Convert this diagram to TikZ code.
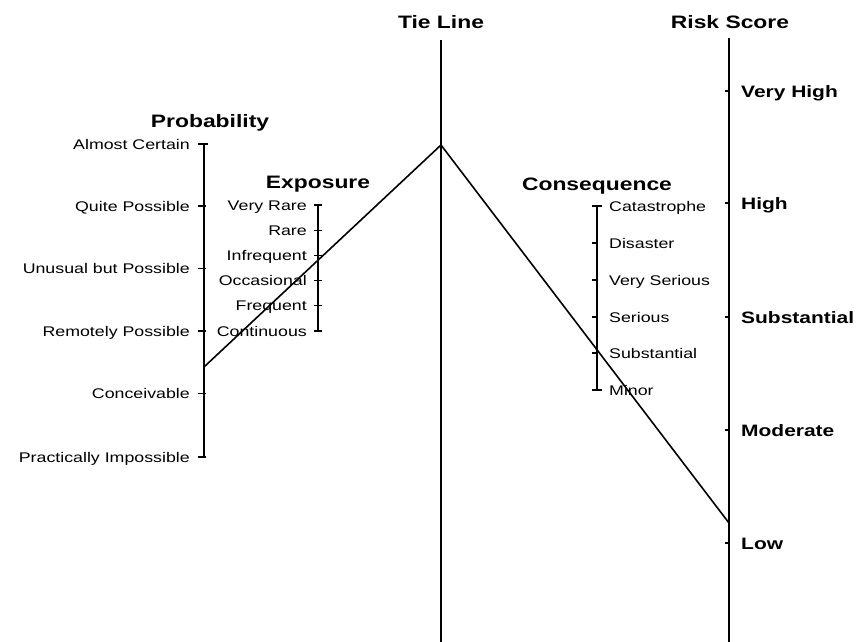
\documentclass[tikz,border=0pt]{standalone}
\usepackage{fontspec}
\setmainfont[FakeStretch=1.27]{Liberation Sans}
\begin{document}
\begin{tikzpicture}[x=1pt,y=-1pt,
  axis/.style={line width=1.6pt},
  tickmark/.style={line width=1.2pt},
  tieline/.style={line width=1.6pt},
  lbl/.style={font=\fontsize{14}{16}\selectfont, inner sep=0pt, text height=10pt, text depth=0pt},
  ttl/.style={font=\bfseries\fontsize{18}{20}\selectfont, inner sep=0pt, text height=13pt, text depth=0pt},
  rlbl/.style={font=\bfseries\fontsize{16.5}{19}\selectfont, inner sep=0pt, text height=12pt, text depth=0pt}]
\useasboundingbox (0,0) rectangle (860,642);

% titles
\node[ttl] (tTie) at (441,22) {Tie Line};
\node[ttl] (tRisk) at (730,22) {Risk Score};
\node[ttl] (tProb) at (210,121) {Probability};
\node[ttl] (tExp) at (318,182) {Exposure};
\node[ttl] (tCons) at (597,184) {Consequence};

% main vertical lines
\coordinate (tieTop) at (441,40);
\coordinate (tieBot) at (441,642);
\coordinate (riskTop) at (729,38);
\coordinate (riskBot) at (729,642);
\draw[axis] (tieTop) -- (tieBot);
\draw[axis] (riskTop) -- (riskBot);

% probability scale
\coordinate (probTop) at (204,144);
\coordinate (probBot) at (204,457);
\draw[axis] (probTop) -- (probBot);
\draw[tickmark] (200,144) -- (208,144);
\foreach \y/\t [count=\i] in {144/Almost Certain, 206/Quite Possible, 268.5/Unusual but Possible, 331/Remotely Possible, 393.5/Conceivable, 457/Practically Impossible} {
  \draw[tickmark] (198,\y) -- (206,\y);
  \node[lbl, anchor=east] (p\i) at (190,\y) {\t};
}

% exposure scale
\coordinate (expTop) at (318,205);
\coordinate (expBot) at (318,331);
\draw[axis] (expTop) -- (expBot);
\foreach \y/\t [count=\i] in {205/Very Rare, 230.2/Rare, 255.4/Infrequent, 280.6/Occasional, 305.8/Frequent, 331/Continuous} {
  \draw[tickmark] (314,\y) -- (322,\y);
  \node[lbl, anchor=east] (e\i) at (307,\y) {\t};
}

% consequence scale
\coordinate (conTop) at (597,206);
\coordinate (conBot) at (597,390);
\draw[axis] (conTop) -- (conBot);
\draw[tickmark] (592,206) -- (602,206);
\draw[tickmark] (592,390) -- (602,390);
\foreach \y/\t [count=\i] in {206/Catastrophe, 243/Disaster, 280/Very Serious, 317/Serious, 353/Substantial, 390/Minor} {
  \draw[tickmark] (592,\y) -- (598,\y);
  \node[lbl, anchor=west] (c\i) at (609,\y) {\t};
}

% risk score labels
\foreach \y/\t [count=\i] in {91/Very High, 203/High, 317/Substantial, 430/Moderate, 543/Low} {
  \draw[tickmark] (725,\y) -- (730,\y);
  \node[rlbl, anchor=west] (r\i) at (741,\y) {\t};
}

% the tie lines
\coordinate (P) at (204,367);
\coordinate (T) at (441,145);
\coordinate (R) at (729,523);
\draw[tieline] (P) -- (T) -- (R);
\end{tikzpicture}
\end{document}
